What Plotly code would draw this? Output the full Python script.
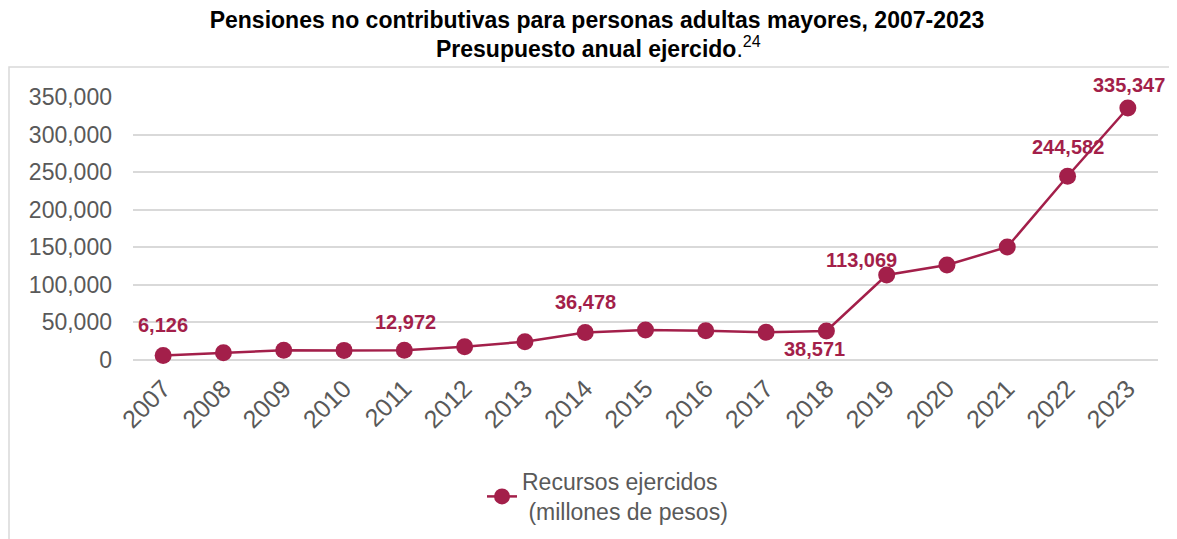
import plotly.graph_objects as go

years = list(range(2007, 2024))
values = [6126, 9700, 13000, 12800, 12972, 17700, 24400, 36478, 40000, 39000, 37000,
          38571, 113069, 126400, 150400, 244582, 335347]
# labelled points
label_years = [2007, 2011, 2014, 2018, 2019, 2022, 2023]
label_texts = ["6,126", "12,972", "36,478", "38,571", "113,069", "244,582", "335,347"]
label_dx = [0, 1, 0, -12, -25, 0, 1]
label_dy = [30, 28, 31, -18, 15, 29, 23]

title_line1 = "Pensiones no contributivas para personas adultas mayores, 2007-2023"
title_line2 = "Presupuesto anual ejercido"
title_note = "24"
series_name = "Recursos ejercidos<br> (millones de pesos)"

color = "#A31F4A"
grey = "#595959"
FONT = "Liberation Sans, Arial, sans-serif"
W, H = 1169, 531          # page body adds 8px margin
L, R, T, B = 125, 19, 89, 179
pw, ph = W - L - R, H - T - B


def px(x):
    return (x - L) / pw


def py(y):
    return (H - B - y) / ph


fig = go.Figure()
fig.add_trace(go.Scatter(
    x=years, y=values, mode="lines+markers", name=series_name,
    line=dict(color=color, width=2.5),
    marker=dict(color=color, size=17),
    cliponaxis=False,
))

for yr, txt, dx, dy in zip(label_years, label_texts, label_dx, label_dy):
    fig.add_annotation(x=yr, y=values[years.index(yr)], text="<b>" + txt + "</b>",
                       showarrow=False, xshift=dx, yshift=dy,
                       font=dict(family=FONT, size=20, color=color))

# second title line
fig.add_annotation(xref="paper", yref="paper", x=px(590), y=py(39),
                   xanchor="center", yanchor="middle", showarrow=False,
                   text="<b>" + title_line2 + "</b>.<sup>" + title_note + "</sup>",
                   font=dict(family=FONT, size=23, color="black"))

fig.add_shape(type="rect", xref="paper", yref="paper",
              x0=px(1), x1=px(1190), y0=py(59), y1=py(560),
              line=dict(color="#D9D9D9", width=1.5), layer="below")

fig.update_layout(
    width=W, height=H,
    margin=dict(l=L, r=R, t=T, b=B, autoexpand=False),
    paper_bgcolor="white", plot_bgcolor="white",
    font=dict(family=FONT, color=grey),
    title=dict(
        text="<b>" + title_line1 + "</b>",
        x=589 / W, xanchor="center", xref="container",
        y=1 - 12 / H, yanchor="middle", yref="container",
        font=dict(family=FONT, size=23, color="black"),
    ),
    xaxis=dict(
        range=[2006.5, 2023.5], tickmode="array", tickvals=years,
        ticktext=[str(y) for y in years],
        tickangle=-45, showgrid=False, showline=False, zeroline=False, ticks="",
        ticklabelstandoff=8,
        tickfont=dict(size=25, color=grey),
    ),
    yaxis=dict(
        range=[0, 350000], dtick=50000, tickformat=",d",
        showgrid=True, gridcolor="#D9D9D9", gridwidth=1.5,
        zeroline=True, zerolinecolor="#D9D9D9", zerolinewidth=1.5,
        showline=False, ticks="", ticklabelstandoff=20,
        tickfont=dict(size=23, color=grey),
    ),
    showlegend=True,
    legend=dict(
        orientation="h", x=px(474), xanchor="left",
        y=py(452), yanchor="top",
        font=dict(family=FONT, size=23, color=grey), bgcolor="rgba(0,0,0,0)",
    ),
)

fig.write_html("out.html")
